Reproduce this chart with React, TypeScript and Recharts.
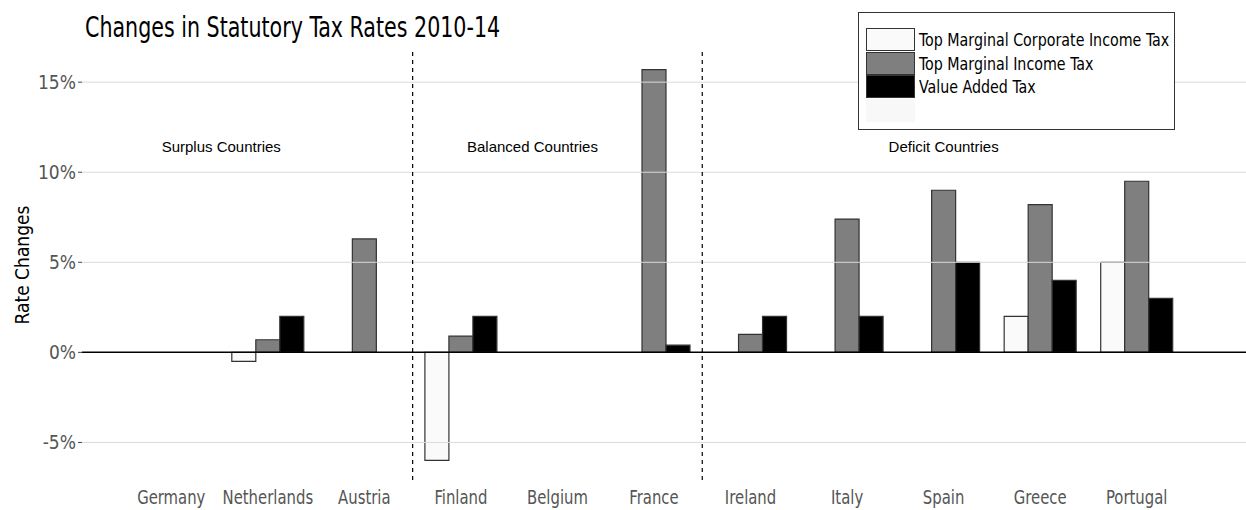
import { BarChart, Bar, XAxis, YAxis, ReferenceLine, ReferenceDot, Legend } from 'recharts'

const countries = ['Germany', 'Netherlands', 'Austria', 'Finland', 'Belgium', 'France', 'Ireland', 'Italy', 'Spain', 'Greece', 'Portugal']
const corporateTax = [0, -0.5, 0, -6, 0, 0, 0, 0, 0, 2, 5]
const incomeTax = [0, 0.7, 6.3, 0.9, 0, 15.7, 1.0, 7.4, 9.0, 8.2, 9.5]
const valueAddedTax = [0, 2, 0, 2, 0, 0.4, 2, 2, 5, 4, 3]
const yTicks = [-5, 0, 5, 10, 15]
// first country of each new group (dashed separator drawn at its band start)
const groupStarts = ['Finland', 'Ireland']
const groupNames = ['Surplus Countries', 'Balanced Countries', 'Deficit Countries']
const groupAnchors = ['Germany', 'Belgium', 'Spain']
const groupLabelY = 11.4

const series = [
  { key: 'corp', name: 'Top Marginal Corporate Income Tax', fill: '#fafafa' },
  { key: 'income', name: 'Top Marginal Income Tax', fill: '#7f7f7f' },
  { key: 'vat', name: 'Value Added Tax', fill: '#000000' },
]

const data = countries.map((country, i) => ({
  country,
  corp: corporateTax[i],
  income: incomeTax[i],
  vat: valueAddedTax[i],
}))

const condensed = '"DejaVu Sans Condensed", "DejaVu Sans", sans-serif'
const labelDx = [50, -25, 0]

function CountryTick({ x, y, payload }: any) {
  return (
    <text
      transform={`translate(${x},${y + 16}) scale(0.87,1)`}
      textAnchor="middle"
      fill="#555"
      fontSize={19}
      fontFamily={condensed}
    >
      {payload.value}
    </text>
  )
}

function LegendBox({ payload }: any) {
  return (
    <div style={{ border: '1px solid #333', background: '#fff', width: 317, height: 118, boxSizing: 'border-box', padding: '15px 0 0 7px' }}>
      {(payload || []).map((item: any) => (
        <div key={item.value} style={{ display: 'flex', alignItems: 'center', height: 23.5 }}>
          <div style={{ width: 47, height: 21, background: item.color, border: '1px solid #333', flex: 'none' }} />
          <span
            style={{
              fontFamily: condensed,
              fontSize: 18,
              color: '#000',
              marginLeft: 4,
              whiteSpace: 'nowrap',
              display: 'inline-block',
              transform: 'scaleX(0.88)',
              transformOrigin: 'left center',
            }}
          >
            {item.value}
          </span>
        </div>
      ))}
      <div style={{ width: 49, height: 23, background: '#f8f8f8' }} />
    </div>
  )
}

export default function App() {
  return (
    <div style={{ position: 'relative', width: 1246, height: 510, background: '#fff' }}>
      <style>{'body{margin:0}'}</style>
      <div
        style={{
          position: 'absolute',
          left: 85,
          top: 10,
          fontFamily: condensed,
          fontSize: 29,
          color: '#000',
          whiteSpace: 'nowrap',
          transform: 'scaleX(0.79)',
          transformOrigin: 'left top',
        }}
      >
        Changes in Statutory Tax Rates 2010-14
      </div>
      <BarChart
        width={1246}
        height={510}
        data={data}
        margin={{ top: 50, right: 0, bottom: 0, left: 0 }}
        barCategoryGap="12.7%"
        barGap={0}
      >
        {yTicks.filter((t) => t !== 0).map((t) => (
          <ReferenceLine key={t} y={t} stroke="#dadada" strokeWidth={1} />
        ))}
        <XAxis
          dataKey="country"
          height={30}
          padding={{ left: 41, right: 61 }}
          axisLine={false}
          tickLine={false}
          tick={<CountryTick />}
        />
        <YAxis
          width={82}
          domain={[-7.085, 16.785]}
          ticks={yTicks}
          axisLine={false}
          tickSize={4}
          tickMargin={2}
          tickLine={{ stroke: '#444' }}
          tickFormatter={(v: number) => `${v}%`}
          tick={{ fill: '#555', fontSize: 19, fontFamily: condensed }}
          label={{ value: 'Rate Changes', angle: -90, position: 'insideLeft', offset: 22, style: { textAnchor: 'middle', fill: '#000', fontSize: 19, fontFamily: condensed } }}
        />
        <Legend
          layout="vertical"
          verticalAlign="middle"
          align="center"
          content={<LegendBox />}
          wrapperStyle={{ position: 'absolute', left: 858, top: 12, width: 317, height: 118 }}
        />
        {series.map((s) => (
          <Bar key={s.key} dataKey={s.key} name={s.name} fill={s.fill} stroke="#333" strokeWidth={1.2} isAnimationActive={false} />
        ))}
        <ReferenceLine y={0} stroke="#000" strokeWidth={1.5} />
        {groupStarts.map((c) => (
          <ReferenceLine key={c} x={c} position="start" stroke="#000" strokeDasharray="4 4" strokeWidth={1.2} />
        ))}
        {groupNames.map((name, i) => (
          <ReferenceDot
            key={name}
            x={groupAnchors[i]}
            y={groupLabelY}
            r={0}
            stroke="none"
            label={{ value: name, position: 'center', dx: labelDx[i], fill: '#000', fontSize: 15, fontFamily: '"Liberation Sans", Arial, sans-serif' }}
          />
        ))}
      </BarChart>
    </div>
  )
}
